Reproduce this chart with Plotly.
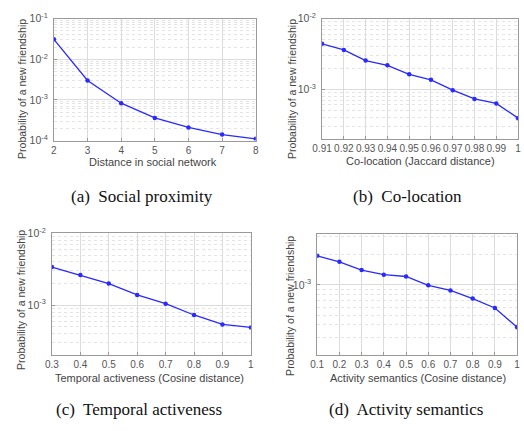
import math
import plotly.graph_objects as go

# ---- data ----
social_dist = [2, 3, 4, 5, 6, 7, 8]
social_prob = [3.1e-2, 3.0e-3, 8.3e-4, 3.6e-4, 2.1e-4, 1.4e-4, 1.1e-4]

coloc_dist = [0.91, 0.92, 0.93, 0.94, 0.95, 0.96, 0.97, 0.98, 0.99, 1.0]
coloc_prob = [4.4e-3, 3.6e-3, 2.55e-3, 2.18e-3, 1.63e-3, 1.36e-3, 9.7e-4, 7.3e-4, 6.3e-4, 3.9e-4]

temporal_dist = [0.3, 0.4, 0.5, 0.6, 0.7, 0.8, 0.9, 1.0]
temporal_prob = [3.4e-3, 2.63e-3, 2.0e-3, 1.39e-3, 1.05e-3, 7.3e-4, 5.4e-4, 4.9e-4]

activity_dist = [0.1, 0.2, 0.3, 0.4, 0.5, 0.6, 0.7, 0.8, 0.9, 1.0]
activity_prob = [1.94e-3, 1.69e-3, 1.40e-3, 1.26e-3, 1.21e-3, 9.9e-4, 8.8e-4, 7.3e-4, 5.9e-4, 3.8e-4]

x_titles = ["Distance in social network", "Co-location (Jaccard distance)",
            "Temporal activeness (Cosine distance)", "Activity semantics (Cosine distance)"]
y_title = "Probability of a new friendship"
captions = ["(a)  Social proximity", "(b)  Co-location",
            "(c)  Temporal activeness", "(d)  Activity semantics"]

W, H = 524, 431
BLUE = "#2a2aff"
GRID = "#dcdcdc"
BORDER = "#9a9a9a"
TICKC = "#555555"
FONT = "Liberation Sans, Arial, sans-serif"

fig = go.Figure()

# panel boxes in pixels: (x0, x1, ytop, ybottom)
boxes = [(45, 252, 11, 137), (320, 521, 11, 135), (43, 247, 233, 359), (315, 520, 234, 359)]
xs = [social_dist, coloc_dist, temporal_dist, activity_dist]
ys = [social_prob, coloc_prob, temporal_prob, activity_prob]
yranges = [[-4, -1], [math.log10(2e-4), -2], [math.log10(2e-4), -2], [math.log10(2e-4), -2.5]]
major_y = [[1e-4, 1e-3, 1e-2, 1e-1], [1e-3, 1e-2], [1e-3, 1e-2], [1e-3]]
major_txt = [["10<sup>-4</sup>", "10<sup>-3</sup>", "10<sup>-2</sup>", "10<sup>-1</sup>"],
             ["10<sup>-3</sup>", "10<sup>-2</sup>"], ["10<sup>-3</sup>", "10<sup>-2</sup>"],
             ["10<sup>-3</sup>"]]
xranges = [[2, 8], [0.91, 1.0], [0.3, 1.0], [0.1, 1.0]]
xticktext = [[str(v) for v in social_dist],
             ["%.2f" % v for v in coloc_dist[:-1]] + ["1"],
             ["%.1f" % v for v in temporal_dist[:-1]] + ["1"],
             ["%.1f" % v for v in activity_dist[:-1]] + ["1"]]

minor_vals = [m * 10 ** e for e in range(-5, 0) for m in range(2, 10)]

for i in range(4):
    n = i + 1
    xa = "x" if n == 1 else "x%d" % n
    ya = "y" if n == 1 else "y%d" % n
    fig.add_trace(go.Scatter(x=xs[i], y=ys[i], mode="lines+markers", xaxis=xa, yaxis=ya,
                             line=dict(color=BLUE, width=1.3),
                             marker=dict(color=BLUE, size=4.5), showlegend=False))
    x0, x1, yt, yb = boxes[i]
    xkey = "xaxis" if n == 1 else "xaxis%d" % n
    ykey = "yaxis" if n == 1 else "yaxis%d" % n
    fig.layout[xkey] = dict(domain=[x0 / W, x1 / W], anchor=ya, range=xranges[i],
                            tickvals=xs[i], ticktext=xticktext[i], tickangle=0,
                            showgrid=True, gridcolor=GRID, gridwidth=1,
                            showline=True, linecolor=BORDER, linewidth=1, mirror=True,
                            ticks="inside", ticklen=3, tickcolor=BORDER,
                            tickfont=dict(family=FONT, size=10, color=TICKC),
                            ticklabeloverflow="allow", ticklabelstandoff=0, zeroline=False)
    fig.layout[ykey] = dict(domain=[1 - yb / H, 1 - yt / H], anchor=xa, type="log",
                            range=yranges[i], tickvals=major_y[i], ticktext=major_txt[i],
                            showgrid=True, gridcolor=GRID, gridwidth=1,
                            minor=dict(tickvals=minor_vals, showgrid=True, gridcolor="#e4e4e4",
                                       griddash="dot", gridwidth=1, ticks=""),
                            showline=True, linecolor=BORDER, linewidth=1, mirror=True,
                            ticks="inside", ticklen=3, tickcolor=BORDER,
                            tickfont=dict(family=FONT, size=10.5, color=TICKC),
                            ticklabelstandoff=3, zeroline=False)

# axis titles and captions as annotations
xt_pos = [(147, 159), (421, 158), (143, 382), (418, 382)]
yt_pos = [(13, 84), (289, 84), (11, 302), (287, 308)]
cap_pos = [(135, 195), (408, 195), (132, 415), (406, 415)]
annots = []
for i in range(4):
    annots.append(dict(text=x_titles[i], x=xt_pos[i][0] / W, y=1 - xt_pos[i][1] / H,
                       xref="paper", yref="paper", showarrow=False, xanchor="center", yanchor="middle",
                       font=dict(family=FONT, size=11, color="#444444")))
    annots.append(dict(text=y_title, x=yt_pos[i][0] / W, y=1 - yt_pos[i][1] / H,
                       xref="paper", yref="paper", showarrow=False, xanchor="center", yanchor="middle",
                       textangle=-90, font=dict(family=FONT, size=10.5, color="#444444")))
    annots.append(dict(text=captions[i], x=cap_pos[i][0] / W, y=1 - cap_pos[i][1] / H,
                       xref="paper", yref="paper", showarrow=False, xanchor="center", yanchor="middle",
                       font=dict(family="Liberation Serif, Times New Roman, serif", size=17, color="#111111")))

fig.update_layout(width=W, height=H, margin=dict(l=0, r=0, t=0, b=0),
                  paper_bgcolor="white", plot_bgcolor="white", annotations=annots)

fig.write_html("out.html", config={"displayModeBar": False},
               post_script="document.body.style.margin='0';document.body.style.overflow='hidden';")
